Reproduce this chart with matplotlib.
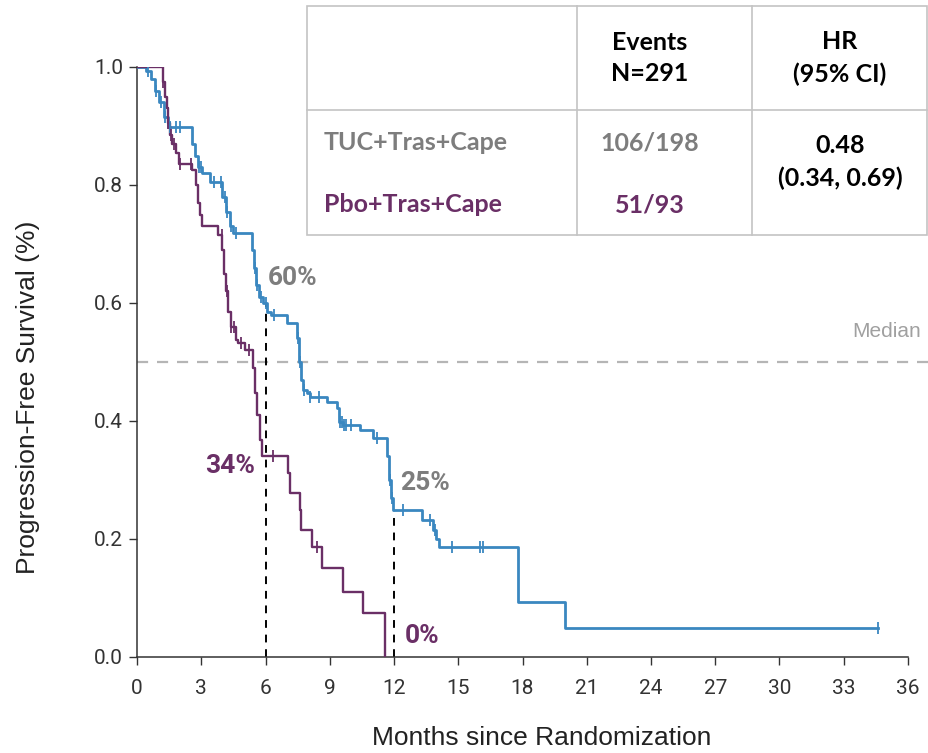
import matplotlib
matplotlib.use("Agg")
import matplotlib.pyplot as plt
from matplotlib.lines import Line2D
from matplotlib.patches import Rectangle

# ---------------- data ----------------
tuc_t = [0, 0.4, 0.65, 0.85, 1.05, 1.25, 1.45, 2.55, 2.7, 2.85, 3.05, 3.4, 3.95, 4.15, 4.35, 4.5,
         5.37, 5.45, 5.55, 5.7, 5.9, 6.05, 6.25, 7.0, 7.47, 7.55, 7.65, 7.75, 7.95, 8.1, 8.87, 9.34,
         9.45, 9.62, 10.41, 11.02, 11.67, 11.75, 11.85, 11.95, 13.3, 13.82, 13.95, 14.1, 17.79,
         19.98, 34.6]
tuc_s = [1.0, 0.993, 0.98, 0.96, 0.94, 0.915, 0.898, 0.87, 0.85, 0.83, 0.82, 0.805, 0.78, 0.755,
         0.73, 0.719, 0.69, 0.66, 0.63, 0.61, 0.60, 0.585, 0.58, 0.566, 0.54, 0.50, 0.47, 0.453,
         0.447, 0.44, 0.432, 0.422, 0.398, 0.393, 0.385, 0.371, 0.34, 0.30, 0.27, 0.249, 0.232,
         0.215, 0.20, 0.187, 0.093, 0.049, 0.049]
tuc_cens = [0.5, 0.9, 1.1, 1.3, 1.55, 1.8, 2.0, 2.9, 3.0, 3.6, 3.9, 4.1, 4.2, 4.4, 4.6, 5.5, 5.6,
            5.8, 6.0, 6.4, 7.5, 7.6, 7.8, 8.1, 8.5, 9.5, 9.55, 9.65, 9.75, 10.0, 11.2, 11.8, 11.9,
            12.4, 13.7, 13.9, 14.7, 16.0, 16.15, 34.6]

pbo_t = [0, 1.2, 1.3, 1.38, 1.45, 1.55, 1.65, 1.8, 1.95, 2.55, 2.75, 2.85, 2.95, 3.05, 3.8, 3.97,
         4.05, 4.15, 4.25, 4.4, 4.6, 4.7, 5.05, 5.4, 5.5, 5.6, 5.75, 5.85, 7.05, 7.15, 7.6, 7.65,
         8.17, 8.64, 9.63, 10.56, 11.58]
pbo_s = [1.0, 0.975, 0.95, 0.93, 0.905, 0.885, 0.87, 0.855, 0.835, 0.825, 0.80, 0.77, 0.75, 0.73,
         0.715, 0.69, 0.65, 0.62, 0.585, 0.56, 0.537, 0.532, 0.52, 0.49, 0.447, 0.41, 0.368, 0.34,
         0.312, 0.278, 0.249, 0.215, 0.187, 0.151, 0.11, 0.074, 0.0]
pbo_cens = [1.2, 1.45, 1.6, 1.75, 2.0, 2.5, 3.95, 4.2, 4.4, 4.55, 4.85, 5.25, 6.35, 8.4]

x_ticks = list(range(0, 37, 3))
y_ticks = [0.0, 0.2, 0.4, 0.6, 0.8, 1.0]
y_ticklabels = ["0.0", "0.2", "0.4", "0.6", "0.8", "1.0"]

landmarks = [6, 12]
landmark_tuc = [0.60, 0.25]
landmark_pbo = [0.34, 0.0]

table_header = ["", "Events\nN=291", "HR\n(95% CI)"]
arms = ["TUC+Tras+Cape", "Pbo+Tras+Cape"]
events = ["106/198", "51/93"]
hr_text = "0.48\n(0.34, 0.69)"

# ---------------- style ----------------
BLUE = "#3a87c0"
PURPLE = "#6a2f66"
GREY_TXT = "#7d7d7d"
NARROW = ["Liberation Sans Narrow", "Roboto", "DejaVu Sans"]
ARIAL = ["Liberation Sans", "DejaVu Sans"]
CAL = ["Lato", "DejaVu Sans"]


def surv_at(ts, ss, x):
    v = ss[0]
    for t, s in zip(ts, ss):
        if t <= x:
            v = s
    return v


W, H = 929, 753


def fx(px):
    return px / W


def fy(py):
    return 1 - py / H


fig = plt.figure(figsize=(9.29, 7.53), dpi=100)
ax = fig.add_axes([137 / W, 1 - 657 / H, (908 - 137) / W, (657 - 67) / H])

ax.step(tuc_t, tuc_s, where="post", color=BLUE, lw=2.0, zorder=3)
ax.step(pbo_t, pbo_s, where="post", color=PURPLE, lw=1.7, zorder=3)
ax.plot(tuc_cens, [surv_at(tuc_t, tuc_s, c) for c in tuc_cens], ls="none", marker="|",
        ms=8, mew=1.3, color=BLUE, zorder=4)
ax.plot(pbo_cens, [surv_at(pbo_t, pbo_s, c) for c in pbo_cens], ls="none", marker="|",
        ms=8, mew=1.3, color=PURPLE, zorder=4)

# landmark dashed lines
for lm, v in zip(landmarks, landmark_tuc):
    ax.plot([lm, lm], [0, v], color="black", ls=(0, (4, 3.5)), lw=1.4, zorder=2)

# median line
ax.plot([0, 1.05], [0.5, 0.5], transform=ax.get_yaxis_transform(), color="#b5b5b5",
        ls=(0, (5, 4)), lw=1.6, clip_on=False, zorder=1)
ax.text(33.4, 0.535, "Median", color="#a0a0a0", fontsize=15, family=ARIAL,
        ha="left", va="bottom", clip_on=False)

# percent annotations
pct_kw = dict(fontsize=19, fontweight="bold", family=NARROW, va="center")
ax.text(6.12, 0.642, "60%", color=GREY_TXT, ha="left", **pct_kw)
ax.text(5.5, 0.324, "34%", color=PURPLE, ha="right", **pct_kw)
ax.text(12.28, 0.295, "25%", color=GREY_TXT, ha="left", **pct_kw)
ax.text(12.5, 0.036, "0%", color=PURPLE, ha="left", **pct_kw)

ax.set_xlim(0, 36)
ax.set_ylim(0, 1.0)
ax.set_xticks(x_ticks)
ax.set_yticks(y_ticks)
ax.set_yticklabels(y_ticklabels)
for lab in ax.get_xticklabels() + ax.get_yticklabels():
    lab.set_family(NARROW)
    lab.set_fontsize(15)
    lab.set_color("#333333")
ax.tick_params(direction="out", length=6, width=1, color="#333333")
ax.tick_params(axis="x", pad=10)
ax.tick_params(axis="y", pad=4)
for sp in ["top", "right"]:
    ax.spines[sp].set_visible(False)
for sp in ["left", "bottom"]:
    ax.spines[sp].set_color("#333333")
    ax.spines[sp].set_linewidth(1.1)

fig.text(fx(542), fy(738), "Months since Randomization", fontsize=19, family=ARIAL,
         color="#222222", ha="center", va="center")
fig.text(fx(28), fy(397), "Progression-Free Survival (%)", fontsize=19, family=ARIAL,
         color="#222222", ha="center", va="center", rotation=90)

# ---------------- table (figure pixel coords) ----------------
tl, tr, tt, tb, tm = 307, 927, 6, 235, 110
c1, c2 = 577, 752
fig.patches.append(Rectangle((fx(tl), fy(tb)), fx(tr) - fx(tl), fy(tt) - fy(tb),
                             transform=fig.transFigure, facecolor="white",
                             edgecolor="#c4c4c4", lw=1.2, zorder=5))
for x in (c1, c2):
    fig.add_artist(Line2D([fx(x), fx(x)], [fy(tt), fy(tb)], color="#c4c4c4", lw=1.2,
                          transform=fig.transFigure, zorder=6))
fig.add_artist(Line2D([fx(tl), fx(tr)], [fy(tm), fy(tm)], color="#c4c4c4", lw=1.2,
                      transform=fig.transFigure, zorder=6))

hdr_kw = dict(fontsize=18, fontweight="bold", family=CAL, ha="center", va="center",
              color="black", zorder=7, linespacing=1.45)
fig.text(fx(650), fy(58), table_header[1], **hdr_kw)
fig.text(fx(840), fy(58), table_header[2], **hdr_kw)

arm_colors = [GREY_TXT, PURPLE]
row_y = [143, 205]
for name, ev, col, yy in zip(arms, events, arm_colors, row_y):
    fig.text(fx(324), fy(yy), name, fontsize=18, fontweight="bold", family=CAL, ha="left",
             va="center", color=col, zorder=7)
    fig.text(fx(650), fy(yy), ev, fontsize=18, fontweight="bold", family=CAL, ha="center",
             va="center", color=col, zorder=7)
fig.text(fx(840), fy(162), hr_text, fontsize=18, fontweight="bold", family=CAL, ha="center",
         va="center", color="black", zorder=7, linespacing=1.45)

fig.savefig("out.png", dpi=100)
